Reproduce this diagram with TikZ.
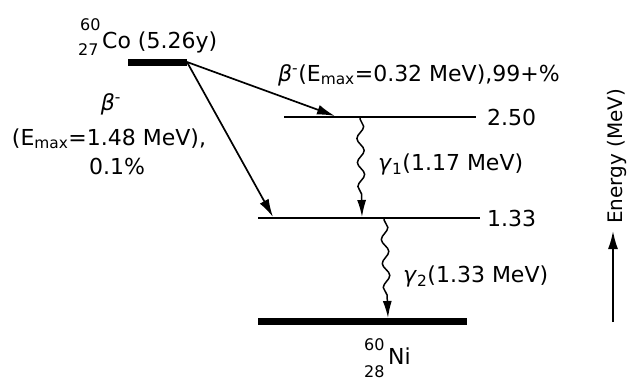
\documentclass[tikz,border=0pt]{standalone}
\usepackage{fontspec}
\setmainfont{DejaVu Sans}
\usetikzlibrary{arrows.meta,decorations.pathmorphing}
\begin{document}
\begin{tikzpicture}[x=1pt,y=-1pt,
  lvl/.style={line width=1.8pt},
  gnd/.style={line width=7pt},
  arr/.style={line width=1.7pt,-{Latex[length=18pt,width=10pt]}},
  wave/.style={line width=1.5pt,decorate,
    decoration={snake,amplitude=3.5pt,segment length=24pt,pre length=1pt,post length=18pt},
    -{Latex[length=17pt,width=9pt]}},
  lab/.style={font=\fontsize{22}{26}\selectfont,inner sep=0pt},
  sm/.style={font=\fontsize{16}{18}\selectfont,inner sep=0pt}]
\useasboundingbox (0,0) rectangle (630,381);
% levels
\coordinate (coL) at (128,62); \coordinate (coR) at (187,62);
\coordinate (aL) at (284,117); \coordinate (aR) at (476,117);
\coordinate (bL) at (258,218); \coordinate (bR) at (480,218);
\coordinate (nL) at (258,321); \coordinate (nR) at (467,321);
\draw[gnd] (coL) -- (coR);
\draw[lvl] (aL) -- (aR);
\draw[lvl] (bL) -- (bR);
\draw[gnd] (nL) -- (nR);
% beta arrows
\coordinate (ta) at (335,116);
\coordinate (tb) at (273,217);
\draw[arr] (coR) -- (ta);
\draw[arr] (coR) -- (tb);
% gamma
\coordinate (g1s) at (360,118); \coordinate (g1e) at (362,217);
\coordinate (g2s) at (384,219); \coordinate (g2e) at (388,318);
\draw[wave] (g1s) -- (g1e);
\draw[wave] (g2s) -- (g2e);
% labels
\node[sm,anchor=base west] (co60) at (80,30) {60};
\node[sm,anchor=base west] (co27) at (78,55) {27};
\node[lab,anchor=base west] (co) at (102,48) {Co (5.26y)};
\node[lab,anchor=base west] (e250) at (487,125) {2.50};
\node[lab,anchor=base west] (e133) at (487,226) {1.33};
\node[lab] (bl1) at (111,104) {\textit{β}\textsuperscript{-}};
\node[lab,anchor=base] (bl2) at (109,145) {(E\textsubscript{max}=1.48 MeV),};
\node[lab,anchor=base] (bl3) at (117,174) {0.1\%};
\node[lab,anchor=base west] (bt) at (278,81) {\textit{β}\textsuperscript{-}(E\textsubscript{max}=0.32 MeV),99+\%};
\node[lab,anchor=base west] (g1) at (378,170) {\textit{γ}\textsubscript{1}(1.17 MeV)};
\node[lab,anchor=base west] (g2) at (403,282) {\textit{γ}\textsubscript{2}(1.33 MeV)};
\node[sm,anchor=base west] (ni60) at (364,350) {60};
\node[lab,anchor=base west] (ni) at (388,364) {Ni};
\node[sm,anchor=base west] (ni28) at (364,377) {28};
% energy axis
\coordinate (eb) at (613,322); \coordinate (et) at (613,231);
\draw[arr] (eb) -- (et);
\node[lab,rotate=90,anchor=base west,font=\fontsize{20}{24}\selectfont] (en) at (622,224) {Energy (MeV)};
\end{tikzpicture}
\end{document}
